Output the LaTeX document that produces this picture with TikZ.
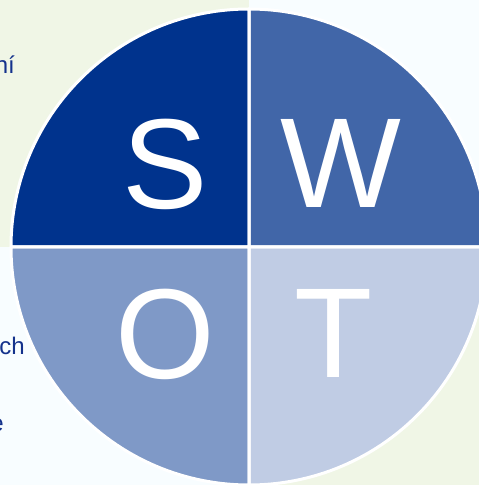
\documentclass[tikz,border=0pt]{standalone}
\usepackage{fontspec}
\setmainfont{Liberation Sans}
\definecolor{bggreen}{RGB}{240,246,230}
\definecolor{bgwhite}{RGB}{248,253,255}
\definecolor{sS}{RGB}{0,51,141}
\definecolor{sW}{RGB}{65,102,168}
\definecolor{sO}{RGB}{127,153,199}
\definecolor{sT}{RGB}{192,204,228}
\definecolor{txtblue}{RGB}{20,50,140}
\begin{document}
\begin{tikzpicture}[x=1pt,y=1pt,
  sector/.style={draw=white,line width=3pt,line join=round},
  letter/.style={text=white,anchor=base,inner sep=0pt,font=\fontsize{128}{128}\selectfont},
  side/.style={text=txtblue,anchor=base east,inner sep=0pt,font=\fontsize{24}{24}\selectfont}]
\useasboundingbox (0,0) rectangle (479,485);
\clip (0,0) rectangle (479,485);
% background quadrants
\fill[bggreen] (0,238) rectangle (249,485);
\fill[bgwhite] (249,238) rectangle (479,485);
\fill[bgwhite] (0,0) rectangle (249,238);
\fill[bggreen] (249,0) rectangle (479,238);
\coordinate (c) at (249,238);
% sectors
\fill[sS] (c) -- ++(180:238) arc[start angle=180,end angle=90,radius=238] -- cycle;
\fill[sW] (c) -- ++(90:238) arc[start angle=90,end angle=0,radius=238] -- cycle;
\fill[sO] (c) -- ++(180:238) arc[start angle=180,end angle=270,radius=238] -- cycle;
\fill[sT] (c) -- ++(270:238) arc[start angle=270,end angle=360,radius=238] -- cycle;
\draw[sector] (c) -- ++(180:238) arc[start angle=180,end angle=90,radius=238] -- cycle;
\draw[sector] (c) -- ++(90:238) arc[start angle=90,end angle=0,radius=238] -- cycle;
\draw[sector] (c) -- ++(180:238) arc[start angle=180,end angle=270,radius=238] -- cycle;
\draw[sector] (c) -- ++(270:238) arc[start angle=270,end angle=360,radius=238] -- cycle;
% letters
\node[letter] (S) at (165,276) {S};
\node[letter] (W) at (341,277) {W};
\node[letter] (O) at (165,106) {O};
\node[letter] (T) at (334,107) {T};
% side text fragments
\node[side] (t1) at (15,411) {ní};
\node[side] (t2) at (25,130) {ch};
\node[side] (t3) at (4,53) {e};
\end{tikzpicture}
\end{document}
